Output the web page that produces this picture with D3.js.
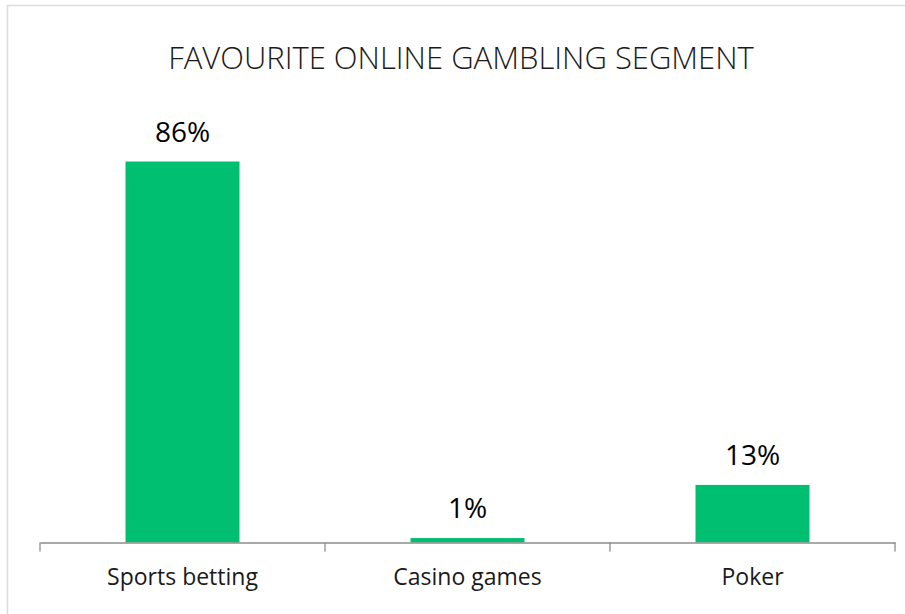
<!DOCTYPE html>
<html>
<head>
<meta charset="utf-8">
<script src="https://cdn.jsdelivr.net/npm/d3@7"></script>
<style>
  html, body { margin: 0; padding: 0; background: #fff; }
  svg { display: block; }
</style>
</head>
<body>
<svg id="chart" width="905" height="614"></svg>
<script>
// Survey results: favourite online gambling segment (share of respondents, %)
const categories = ["Sports betting", "Casino games", "Poker"];
const shares = [86, 1, 13];
const titleText = "FAVOURITE ONLINE GAMBLING SEGMENT";

const svg = d3.select("#chart");
const W = 905, H = 614;
const plot = { left: 40, right: 895, top: 99.5, bottom: 542.5 };

// Chart frame (extends past the right and bottom edges of the view)
svg.append("rect")
  .attr("x", 7.5).attr("y", 5.5)
  .attr("width", W + 20).attr("height", H + 20)
  .attr("fill", "#fff")
  .attr("stroke", "#dcdcdc")
  .attr("stroke-width", 1.5);

// Title
svg.append("text")
  .attr("x", 461).attr("y", 69)
  .attr("text-anchor", "middle")
  .attr("font-family", "'Open Sans', sans-serif")
  .attr("font-weight", 300)
  .attr("font-size", 31)
  .attr("fill", "#1a1a1a")
  .text(titleText);

// Scales
const xCat = d3.scaleBand().domain(categories).range([plot.left, plot.right]).padding(0);
const xBar = d3.scaleBand().domain(categories).range([plot.left, plot.right])
  .paddingInner(0.6).paddingOuter(0.3);
const y = d3.scaleLinear().domain([0, 100]).range([plot.bottom, plot.top]);

const data = categories.map((c, i) => ({ cat: c, v: shares[i] }));

// Bars
svg.append("g").selectAll("rect").data(data).join("rect")
  .attr("x", d => xBar(d.cat))
  .attr("y", d => y(d.v))
  .attr("width", xBar.bandwidth())
  .attr("height", d => y(0) - y(d.v))
  .attr("fill", "#00bf71");

// Value labels
svg.append("g").selectAll("text").data(data).join("text")
  .attr("x", d => xBar(d.cat) + xBar.bandwidth() / 2)
  .attr("y", d => y(d.v) - 20)
  .attr("text-anchor", "middle")
  .attr("font-family", "'Open Sans', sans-serif")
  .attr("font-size", 28)
  .attr("fill", "#000")
  .text(d => d.v + "%");

// Category axis: baseline with tick marks between categories
const axis = svg.append("g")
  .attr("transform", `translate(0,${plot.bottom})`)
  .call(d3.axisBottom(xCat).tickSize(0).tickPadding(0).tickSizeOuter(0));
axis.select(".domain").attr("stroke", "#8c8c8c").attr("stroke-width", 1.3);
axis.selectAll(".tick text")
  .attr("y", 42.5).attr("dy", 0)
  .attr("font-family", "'Open Sans', sans-serif")
  .attr("font-size", 23)
  .attr("fill", "#1a1a1a");

const boundaries = categories.map(c => xCat(c)).concat([xCat.range()[1]]);
axis.append("g").selectAll("line").data(boundaries).join("line")
  .attr("x1", d => d).attr("x2", d => d)
  .attr("y1", 0).attr("y2", 9)
  .attr("stroke", "#8c8c8c").attr("stroke-width", 1.3);
</script>
</body>
</html>
